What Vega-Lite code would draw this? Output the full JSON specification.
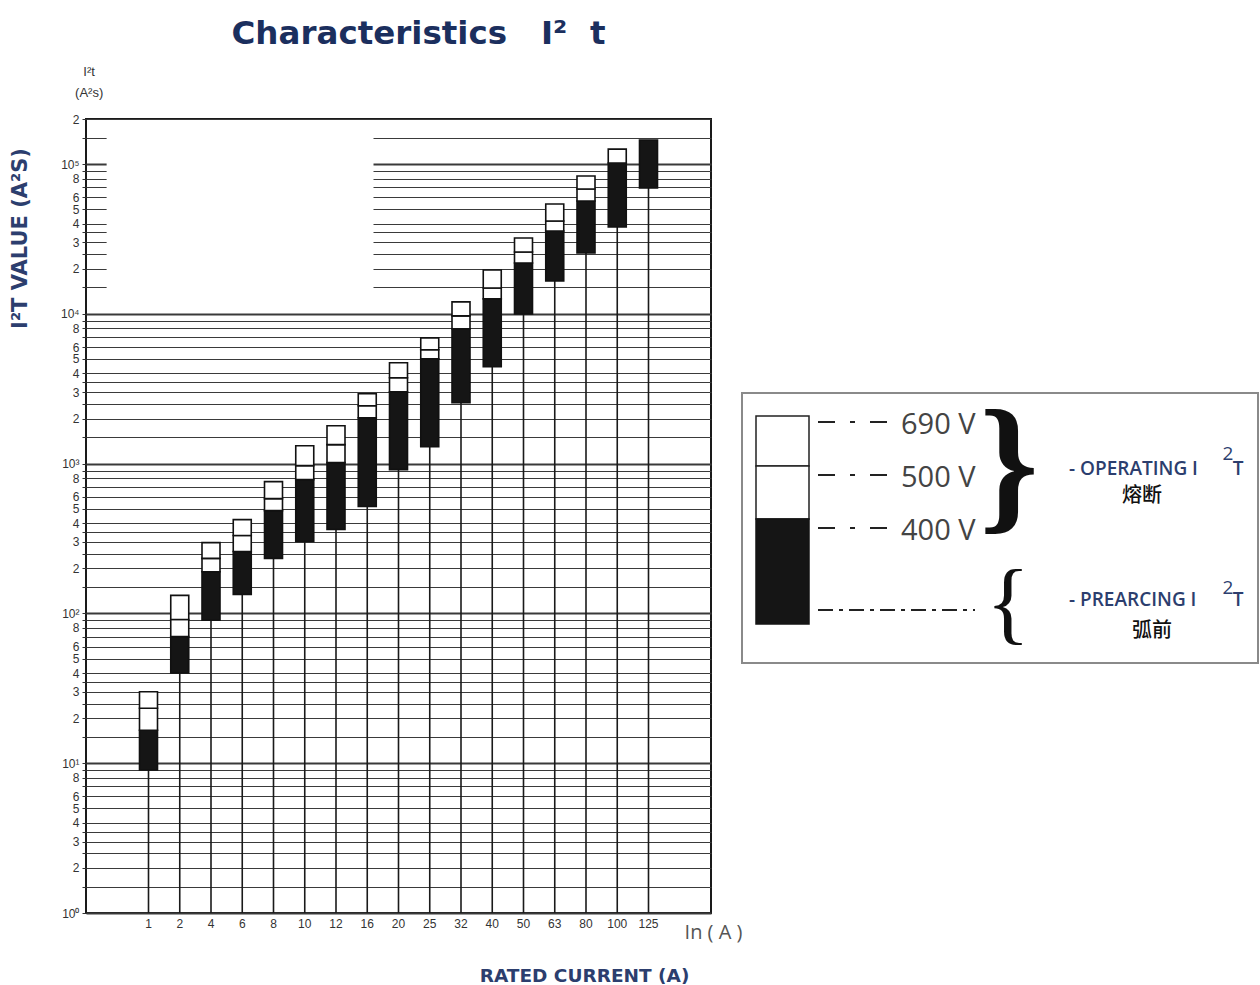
{
  "$schema": "https://vega.github.io/schema/vega-lite/v6.json",
  "background": "white",
  "padding": {"left": 7, "top": 16, "right": 2, "bottom": 2},
  "bounds": "flush",
  "spacing": 30,
  "datasets": {
    "fuses": [
      {"In": "1", "part": "prearcing", "lo": 9, "hi": 16.6},
      {"In": "1", "part": "400–500 V", "lo": 16.6, "hi": 23.3},
      {"In": "1", "part": "500–690 V", "lo": 23.3, "hi": 30},
      {"In": "2", "part": "prearcing", "lo": 40, "hi": 70},
      {"In": "2", "part": "400–500 V", "lo": 70, "hi": 91},
      {"In": "2", "part": "500–690 V", "lo": 91, "hi": 132},
      {"In": "4", "part": "prearcing", "lo": 90, "hi": 190},
      {"In": "4", "part": "400–500 V", "lo": 190, "hi": 233},
      {"In": "4", "part": "500–690 V", "lo": 233, "hi": 297},
      {"In": "6", "part": "prearcing", "lo": 134, "hi": 259},
      {"In": "6", "part": "400–500 V", "lo": 259, "hi": 331},
      {"In": "6", "part": "500–690 V", "lo": 331, "hi": 423},
      {"In": "8", "part": "prearcing", "lo": 233, "hi": 486},
      {"In": "8", "part": "400–500 V", "lo": 486, "hi": 584},
      {"In": "8", "part": "500–690 V", "lo": 584, "hi": 759},
      {"In": "10", "part": "prearcing", "lo": 302, "hi": 782},
      {"In": "10", "part": "400–500 V", "lo": 782, "hi": 970},
      {"In": "10", "part": "500–690 V", "lo": 970, "hi": 1318},
      {"In": "12", "part": "prearcing", "lo": 363, "hi": 1016},
      {"In": "12", "part": "400–500 V", "lo": 1016, "hi": 1339},
      {"In": "12", "part": "500–690 V", "lo": 1339, "hi": 1792},
      {"In": "16", "part": "prearcing", "lo": 517, "hi": 2026},
      {"In": "16", "part": "400–500 V", "lo": 2026, "hi": 2436},
      {"In": "16", "part": "500–690 V", "lo": 2436, "hi": 2929},
      {"In": "20", "part": "prearcing", "lo": 912, "hi": 3020},
      {"In": "20", "part": "400–500 V", "lo": 3020, "hi": 3745},
      {"In": "20", "part": "500–690 V", "lo": 3745, "hi": 4715},
      {"In": "25", "part": "prearcing", "lo": 1298, "hi": 5012},
      {"In": "25", "part": "400–500 V", "lo": 5012, "hi": 5754},
      {"In": "25", "part": "500–690 V", "lo": 5754, "hi": 6918},
      {"In": "32", "part": "prearcing", "lo": 2551, "hi": 7943},
      {"In": "32", "part": "400–500 V", "lo": 7943, "hi": 9700},
      {"In": "32", "part": "500–690 V", "lo": 9700, "hi": 12023},
      {"In": "40", "part": "prearcing", "lo": 4433, "hi": 12590},
      {"In": "40", "part": "400–500 V", "lo": 12590, "hi": 14900},
      {"In": "40", "part": "500–690 V", "lo": 14900, "hi": 19640},
      {"In": "50", "part": "prearcing", "lo": 10000, "hi": 21880},
      {"In": "50", "part": "400–500 V", "lo": 21880, "hi": 25900},
      {"In": "50", "part": "500–690 V", "lo": 25900, "hi": 32100},
      {"In": "63", "part": "prearcing", "lo": 16600, "hi": 35730},
      {"In": "63", "part": "400–500 V", "lo": 35730, "hi": 41690},
      {"In": "63", "part": "500–690 V", "lo": 41690, "hi": 54100},
      {"In": "80", "part": "prearcing", "lo": 25530, "hi": 56680},
      {"In": "80", "part": "400–500 V", "lo": 56680, "hi": 68130},
      {"In": "80", "part": "500–690 V", "lo": 68130, "hi": 83180},
      {"In": "100", "part": "prearcing", "lo": 38020, "hi": 101600},
      {"In": "100", "part": "400–500 V", "lo": 101600, "hi": 125900},
      {"In": "125", "part": "prearcing", "lo": 69200, "hi": 144500}
    ]
  },
  "hconcat": [
    {
      "width": 625,
      "height": 794,
      "view": {"stroke": "#1a1a1a", "strokeWidth": 2},
      "title": {
        "text": "Characteristics\u00a0\u00a0\u00a0I²\u00a0\u00a0t",
        "font": "DejaVu Sans",
        "fontSize": 32.5,
        "fontWeight": "bold",
        "color": "#1b2f5e",
        "anchor": "middle",
        "frame": "group",
        "baseline": "alphabetic",
        "offset": -10,
        "dx": 20
      },
      "layer": [
        {
          "data": {"name": "fuses"},
          "encoding": {
            "x": {
              "field": "In",
              "type": "ordinal",
              "sort": null,
              "scale": {
                "domain": ["", "1","2","4","6","8","10","12","16","20","25","32","40","50","63","80","100","125", " "],
                "paddingInner": 0.424,
                "paddingOuter": 0.712
              },
              "axis": {
                "values": ["1","2","4","6","8","10","12","16","20","25","32","40","50","63","80","100","125"],
                "labelAngle": 0,
                "ticks": false,
                "domain": false,
                "grid": false,
                "labelPadding": 5,
                "labelFont": "Liberation Sans",
                "labelFontSize": 12,
                "labelColor": "#333333",
                "title": "RATED CURRENT (A)",
                "titleFont": "DejaVu Sans",
                "titleFontSize": 18.5,
                "titleFontWeight": "bold",
                "titleColor": "#2c3e6e",
                "titleX": 498,
                "titleY": 53,
                "titleAlign": "center",
                "titleBaseline": "top"
              }
            },
            "y": {
              "field": "lo",
              "type": "quantitative",
              "scale": {"type": "log", "domain": [1, 200000], "nice": false},
              "axis": {
                "values": [1,1.5,2,2.5,3,3.5,4,5,6,7,8,9,10,15,20,25,30,35,40,50,60,70,80,90,100,150,200,250,300,350,400,500,600,700,800,900,1000,1500,2000,2500,3000,3500,4000,5000,6000,7000,8000,9000,10000,15000,20000,25000,30000,35000,40000,50000,60000,70000,80000,90000,100000,150000,200000],
                "labelExpr": "datum.value == 200000 ? '2' : indexof([1,10,100,1000,10000,100000], datum.value) >= 0 ? '10' + ['⁰','¹','²','³','⁴','⁵'][round(log(datum.value)/LN10)] : indexof([2,3,4,5,6,8], round(10 * datum.value / pow(10, floor(log(datum.value)/LN10 + 1e-9))) / 10) >= 0 ? '' + round(datum.value / pow(10, floor(log(datum.value)/LN10 + 1e-9))) : ''",
                "labelOverlap": false,
                "labelFlush": false,
                "labelFont": "Liberation Sans",
                "labelFontSize": 12,
                "labelColor": "#333333",
                "labelPadding": 3,
                "grid": true,
                "gridColor": "#3a3a3a",
                "gridOpacity": 1,
                "gridWidth": {"condition": {"test": "indexof([1,10,100,1000,10000,100000], datum.value) >= 0", "value": 2.2}, "value": 1},
                "domain": false,
                "ticks": true,
                "tickSize": 4,
                "tickColor": "#333333",
                "title": "I²T VALUE (A²S)",
                "titleFont": "DejaVu Sans",
                "titleFontSize": 21,
                "titleFontWeight": "bold",
                "titleColor": "#2c3e6e",
                "titleAngle": -90,
                "titleX": -56,
                "titleY": 119,
                "titleAlign": "center",
                "titleBaseline": "bottom"
              }
            }
          },
          "layer": [
            {
              "transform": [{"filter": "datum.part === 'prearcing'"}],
              "mark": {"type": "rule", "color": "#1a1a1a", "strokeWidth": 1.6},
              "encoding": {
                "y2": {"datum": 1}
              }
            },
            {
              "mark": {"type": "bar", "stroke": "#111111", "strokeWidth": 1.6},
              "encoding": {
                "y2": {"field": "hi"},
                "fill": {
                  "field": "part",
                  "type": "nominal",
                  "scale": {"domain": ["prearcing", "400–500 V", "500–690 V"], "range": ["#151515", "#ffffff", "#ffffff"]},
                  "legend": null
                }
              }
            }
          ]
        },
        {
          "data": {"values": [{}]},
          "layer": [
            {
              "mark": {"type": "rect", "fill": "#ffffff"},
              "encoding": {
                "x": {"datum": 0.033, "type": "quantitative", "scale": {"domain": [0, 1], "nice": false}, "axis": null},
                "x2": {"datum": 0.46},
                "y": {"datum": 10600, "type": "quantitative"},
                "y2": {"datum": 195000}
              }
            },
            {
              "mark": {"type": "text", "font": "Liberation Sans", "fontSize": 13, "color": "#333333", "align": "center", "baseline": "middle"},
              "encoding": {
                "x": {"datum": 0.005, "type": "quantitative"},
                "y": {"datum": 410000, "type": "quantitative"},
                "text": {"value": "I²t"}
              }
            },
            {
              "mark": {"type": "text", "font": "Liberation Sans", "fontSize": 13, "color": "#333333", "align": "center", "baseline": "middle"},
              "encoding": {
                "x": {"datum": 0.005, "type": "quantitative"},
                "y": {"datum": 297000, "type": "quantitative"},
                "text": {"value": "(A²s)"}
              }
            },
            {
              "mark": {"type": "text", "font": "Open Sans", "fontSize": 20, "color": "#555555", "align": "center", "baseline": "middle"},
              "encoding": {
                "x": {"datum": 1.004, "type": "quantitative"},
                "y": {"datum": 0.73, "type": "quantitative"},
                "text": {"value": "In\u00a0(\u00a0A\u00a0)"}
              }
            }
          ]
        }
      ],
      "resolve": {"scale": {"x": "independent"}, "axis": {"x": "independent"}}
    },
    {
      "width": 518,
      "height": 794,
      "view": {"stroke": null},
      "data": {"values": [{}]},
      "layer": [
        {
          "mark": {"type": "rect", "fill": "#ffffff", "stroke": "#8a8a8a", "strokeWidth": 2},
          "encoding": {
            "x": {"datum": 1, "type": "quantitative", "scale": {"domain": [0, 518], "nice": false, "zero": false}, "axis": null},
            "x2": {"datum": 517},
            "y": {"datum": 274, "type": "quantitative", "scale": {"domain": [0, 794], "nice": false, "zero": false, "reverse": true}, "axis": null},
            "y2": {"datum": 544}
          }
        },
        {
          "mark": {"type": "rect", "fill": "#ffffff", "stroke": "#222222", "strokeWidth": 1.5},
          "encoding": {
            "x": {"datum": 15, "type": "quantitative"},
            "x2": {"datum": 68},
            "y": {"datum": 297, "type": "quantitative"},
            "y2": {"datum": 347}
          }
        },
        {
          "mark": {"type": "rect", "fill": "#ffffff", "stroke": "#222222", "strokeWidth": 1.5},
          "encoding": {
            "x": {"datum": 15, "type": "quantitative"},
            "x2": {"datum": 68},
            "y": {"datum": 347, "type": "quantitative"},
            "y2": {"datum": 400}
          }
        },
        {
          "mark": {"type": "rect", "fill": "#151515", "stroke": "#151515", "strokeWidth": 1.5},
          "encoding": {
            "x": {"datum": 15, "type": "quantitative"},
            "x2": {"datum": 68},
            "y": {"datum": 400, "type": "quantitative"},
            "y2": {"datum": 505}
          }
        },
        {
          "mark": {"type": "rule", "color": "#222222", "strokeWidth": 2, "strokeDash": [17, 15, 5, 15]},
          "encoding": {
            "x": {"datum": 77, "type": "quantitative"},
            "x2": {"datum": 146},
            "y": {"datum": 303, "type": "quantitative"}
          }
        },
        {
          "mark": {"type": "rule", "color": "#222222", "strokeWidth": 2, "strokeDash": [17, 15, 5, 15]},
          "encoding": {
            "x": {"datum": 77, "type": "quantitative"},
            "x2": {"datum": 146},
            "y": {"datum": 356, "type": "quantitative"}
          }
        },
        {
          "mark": {"type": "rule", "color": "#222222", "strokeWidth": 2, "strokeDash": [17, 15, 5, 15]},
          "encoding": {
            "x": {"datum": 77, "type": "quantitative"},
            "x2": {"datum": 146},
            "y": {"datum": 409, "type": "quantitative"}
          }
        },
        {
          "mark": {"type": "rule", "color": "#222222", "strokeWidth": 2, "strokeDash": [15, 6, 4, 6]},
          "encoding": {
            "x": {"datum": 77, "type": "quantitative"},
            "x2": {"datum": 234},
            "y": {"datum": 491, "type": "quantitative"}
          }
        },
        {
          "data": {"values": [{"label": "690 V", "pos": 306}, {"label": "500 V", "pos": 359}, {"label": "400 V", "pos": 412}]},
          "mark": {"type": "text", "font": "Open Sans", "fontSize": 29, "color": "#444444", "align": "left", "baseline": "middle"},
          "encoding": {
            "x": {"datum": 160, "type": "quantitative"},
            "y": {"field": "pos", "type": "quantitative"},
            "text": {"field": "label", "type": "nominal"}
          }
        },
        {
          "mark": {"type": "text", "font": "Liberation Serif", "fontSize": 150, "fontWeight": "bold", "color": "#111111", "align": "center", "baseline": "middle"},
          "encoding": {
            "x": {"datum": 268, "type": "quantitative"},
            "y": {"datum": 350, "type": "quantitative"},
            "text": {"value": "}"}
          }
        },
        {
          "mark": {"type": "text", "font": "Liberation Serif", "fontSize": 92, "color": "#111111", "align": "center", "baseline": "middle"},
          "encoding": {
            "x": {"datum": 267, "type": "quantitative"},
            "y": {"datum": 486, "type": "quantitative"},
            "text": {"value": "{"}
          }
        },
        {
          "data": {"values": [{"label": "- OPERATING I", "pos": 350}, {"label": "- PREARCING I", "pos": 481}]},
          "mark": {"type": "text", "font": "Open Sans", "fontSize": 19, "fontWeight": 600, "color": "#2c3e6e", "align": "left", "baseline": "middle"},
          "encoding": {
            "x": {"datum": 328, "type": "quantitative"},
            "y": {"field": "pos", "type": "quantitative"},
            "text": {"field": "label", "type": "nominal"}
          }
        },
        {
          "data": {"values": [{"pos": 350}, {"pos": 481}]},
          "mark": {"type": "text", "font": "Open Sans", "fontSize": 19, "fontWeight": 600, "color": "#2c3e6e", "align": "center", "baseline": "middle"},
          "encoding": {
            "x": {"datum": 497, "type": "quantitative"},
            "y": {"field": "pos", "type": "quantitative"},
            "text": {"value": "T"}
          }
        },
        {
          "data": {"values": [{"pos": 335}, {"pos": 469}]},
          "mark": {"type": "text", "font": "Open Sans", "fontSize": 19, "color": "#2c3e6e", "align": "center", "baseline": "middle"},
          "encoding": {
            "x": {"datum": 487, "type": "quantitative"},
            "y": {"field": "pos", "type": "quantitative"},
            "text": {"value": "2"}
          }
        },
        {
          "data": {"values": [{"label": "熔断", "px": 401, "pos": 377}, {"label": "弧前", "px": 411, "pos": 512}]},
          "mark": {"type": "text", "font": "Noto Sans CJK SC", "fontSize": 20, "fontWeight": 500, "color": "#111111", "align": "center", "baseline": "middle"},
          "encoding": {
            "x": {"field": "px", "type": "quantitative"},
            "y": {"field": "pos", "type": "quantitative"},
            "text": {"field": "label", "type": "nominal"}
          }
        }
      ]
    }
  ]
}
